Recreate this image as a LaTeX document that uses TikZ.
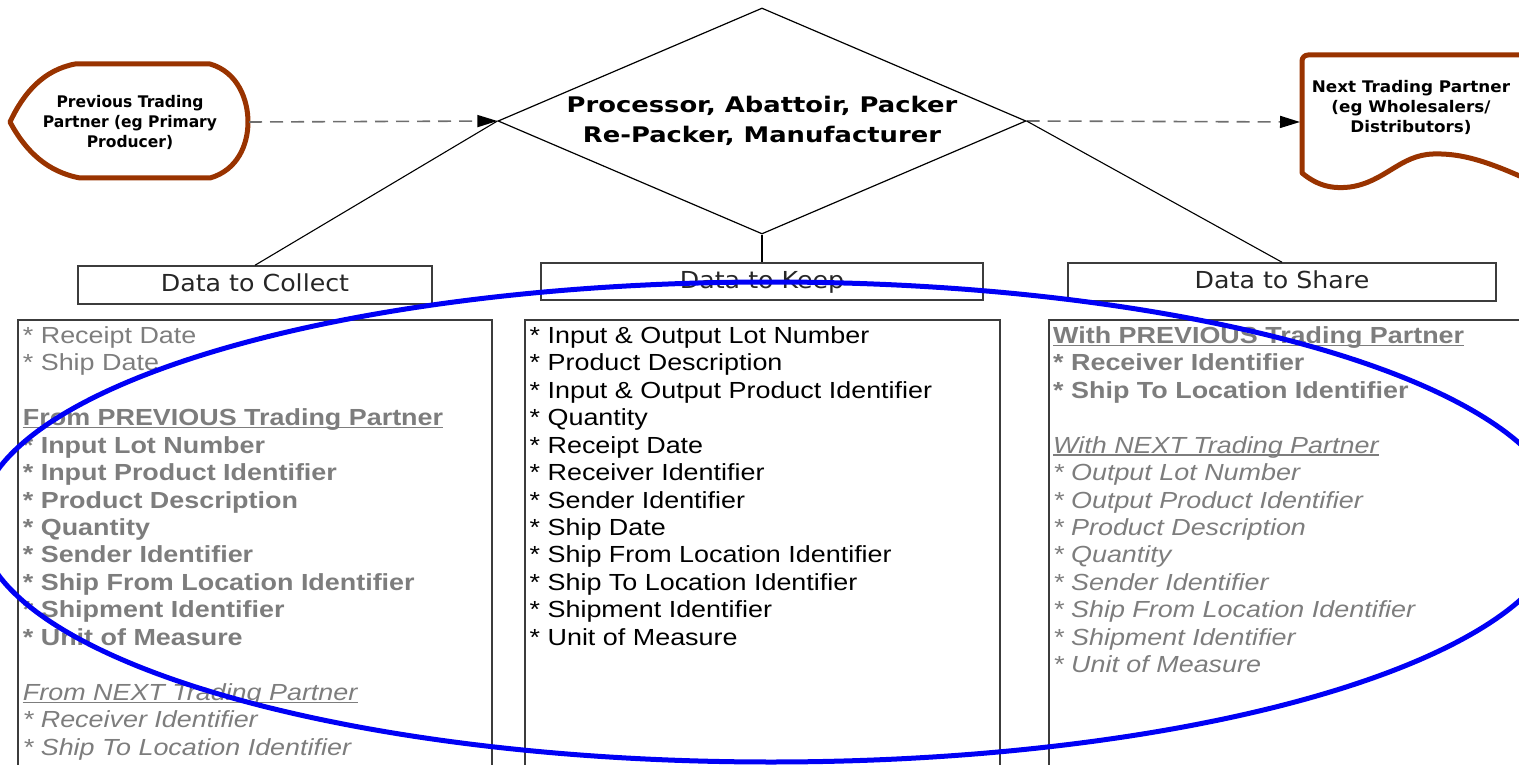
\documentclass[tikz,border=0pt]{standalone}
\usepackage{fontspec}
\setmainfont{Liberation Sans}
\newfontfamily\lf[FakeStretch=1.155]{Liberation Sans}
\newfontfamily\hf[FakeStretch=1.08]{DejaVu Sans}
\newfontfamily\df[FakeStretch=1.2]{DejaVu Sans}
\newfontfamily\pf[FakeStretch=0.97]{DejaVu Sans}
\newfontfamily\nf[FakeStretch=1.05]{DejaVu Sans}
\usetikzlibrary{arrows.meta,shapes.geometric}
\definecolor{brn}{RGB}{153,51,0}
\definecolor{txtgray}{RGB}{125,125,125}
\definecolor{boxline}{RGB}{60,60,60}
\definecolor{ellblue}{RGB}{0,0,245}
\definecolor{dashgray}{RGB}{110,110,110}
\begin{document}
\begin{tikzpicture}[x=1pt,y=-1pt,
  hdr/.style={draw=boxline, line width=1.5pt, inner sep=0pt, text height=17pt, text depth=4pt,
    font=\hf\fontsize{23.4}{27}\selectfont, text=black!85},
  listbox/.style={draw=boxline, line width=1.5pt, inner sep=0pt, anchor=north west, minimum height=500pt},
  partner/.style={draw=brn, line width=5pt, line join=round},
  conn/.style={draw=black, line width=1.1pt},
  dasharrow/.style={draw=dashgray, line width=1.6pt, dash pattern=on 13pt off 8pt,
    -{Triangle[length=20pt,width=12pt,color=black]}},
  listln/.style={anchor=base west, inner sep=0pt, font=\lf\fontsize{23.3}{27.5}\selectfont},
  grayln/.style={listln, text=txtgray},
  graybold/.style={grayln, font=\lf\bfseries\fontsize{23.3}{27.5}\selectfont},
  grayit/.style={grayln, font=\lf\itshape\fontsize{23.3}{27.5}\selectfont},
  blackln/.style={listln, text=black},
  uline/.style={draw=txtgray, line width=1.3pt}
]
\useasboundingbox (0,0) rectangle (1519,765);
\clip (0,0) rectangle (1519,765);

% central diamond
\node[draw=black, line width=1.2pt, shape=diamond, minimum width=528pt, minimum height=226pt, inner sep=0pt] (dia) at (762,121) {};
\node[font=\df\bfseries\fontsize{21.5}{30}\selectfont, align=center, inner sep=0pt] (proc) at (762,121)
  {Processor, Abattoir, Packer\\Re-Packer, Manufacturer};

% previous trading partner (display shape)
\draw[partner] (10,122) .. controls (24,92) and (44,70) .. (75,64) -- (210,64)
  .. controls (238,72) and (248,100) .. (248,122)
  .. controls (248,144) and (238,170) .. (210,178) -- (80,178)
  .. controls (48,172) and (26,152) .. (10,122) -- cycle;
\coordinate (prevE) at (249,122);
\node[font=\pf\bfseries\fontsize{16}{20}\selectfont, align=center, inner sep=0pt] (prev) at (130,122)
  {Previous Trading\\Partner (eg Primary\\Producer)};

% next trading partner (document shape)
\draw[partner] (1560,55) -- (1308,55) to[out=180,in=90] (1302,61) -- (1302,173)
  .. controls (1318,186) and (1332,189) .. (1350,187)
  .. controls (1385,182) and (1400,155) .. (1433,154)
  .. controls (1465,153) and (1495,163) .. (1560,195);
\coordinate (nextW) at (1300,122);
\node[font=\nf\bfseries\fontsize{16}{20}\selectfont, align=center, inner sep=0pt] (next) at (1411,107)
  {Next Trading Partner\\(eg Wholesalers/\\Distributors)};

% dashed arrows
\draw[dasharrow] (prevE) -- (dia.west);
\draw[dasharrow] (dia.east) -- (nextW);

% header boxes
\node[hdr, minimum width=354pt, minimum height=38pt] (collect) at (255,285) {Data to Collect};
\node[hdr, minimum width=442pt, minimum height=37pt] (keep) at (762,281.5) {Data to Keep};
\node[hdr, minimum width=428pt, minimum height=38pt] (share) at (1282,282) {Data to Share};

\draw[conn] (dia.west) -- (collect.north);
\draw[conn] (dia.south) -- (keep.north);
\draw[conn] (dia.east) -- (share.north);

% list boxes
\node[listbox, minimum width=474pt] (colbox) at (17,319) {};
\node[listbox, minimum width=475pt] (keepbox) at (524,319) {};
\node[listbox, minimum width=600pt] (sharebox) at (1048,319) {};

% ---- Data to Collect list
\node[grayln] (c1) at (22.7,343.3) {* Receipt Date};
\node[grayln] (c2) at (22.7,370.75) {* Ship Date};
\node[graybold] (c4) at (22.7,425.65) {From PREVIOUS Trading Partner};
\draw[uline] ([yshift=-2pt]c4.base west) -- ([yshift=-2pt]c4.base east);
\foreach \t [count=\i from 0] in {Input Lot Number, Input Product Identifier, Product Description,
  Quantity, Sender Identifier, Ship From Location Identifier, Shipment Identifier, Unit of Measure}
  \node[graybold] (cp\i) at (22.7,{343.3+27.45*(\i+4)}) {* \t};
\node[grayit] (c14) at (22.7,{343.3+27.45*13}) {From NEXT Trading Partner};
\draw[uline] ([yshift=-2pt]c14.base west) -- ([yshift=-2pt]c14.base east);
\node[grayit] (c15) at (22.7,{343.3+27.45*14}) {* Receiver Identifier};
\node[grayit] (c16) at (22.7,{343.3+27.45*15}) {* Ship To Location Identifier};

% ---- Data to Keep list
\foreach \t [count=\i from 0] in {Input \& Output Lot Number, Product Description,
  Input \& Output Product Identifier, Quantity, Receipt Date, Receiver Identifier,
  Sender Identifier, Ship Date, Ship From Location Identifier, Ship To Location Identifier,
  Shipment Identifier, Unit of Measure}
  \node[blackln] (k\i) at (529.5,{343.3+27.45*\i}) {* \t};

% ---- Data to Share list
\node[graybold] (s1) at (1053,343.3) {With PREVIOUS Trading Partner};
\draw[uline] ([yshift=-2pt]s1.base west) -- ([yshift=-2pt]s1.base east);
\node[graybold] (s2) at (1053,{343.3+27.45}) {* Receiver Identifier};
\node[graybold] (s3) at (1053,{343.3+27.45*2}) {* Ship To Location Identifier};
\node[grayit] (s5) at (1053,{343.3+27.45*4}) {With NEXT Trading Partner};
\draw[uline] ([yshift=-2pt]s5.base west) -- ([yshift=-2pt]s5.base east);
\foreach \t [count=\i from 0] in {Output Lot Number, Output Product Identifier, Product Description,
  Quantity, Sender Identifier, Ship From Location Identifier, Shipment Identifier, Unit of Measure}
  \node[grayit] (sn\i) at (1053,{343.3+27.45*(\i+5)}) {* \t};

% blue ellipse
\draw[ellblue, line width=5pt] (771,522) ellipse [x radius=792pt, y radius=240pt];
\end{tikzpicture}
\end{document}
